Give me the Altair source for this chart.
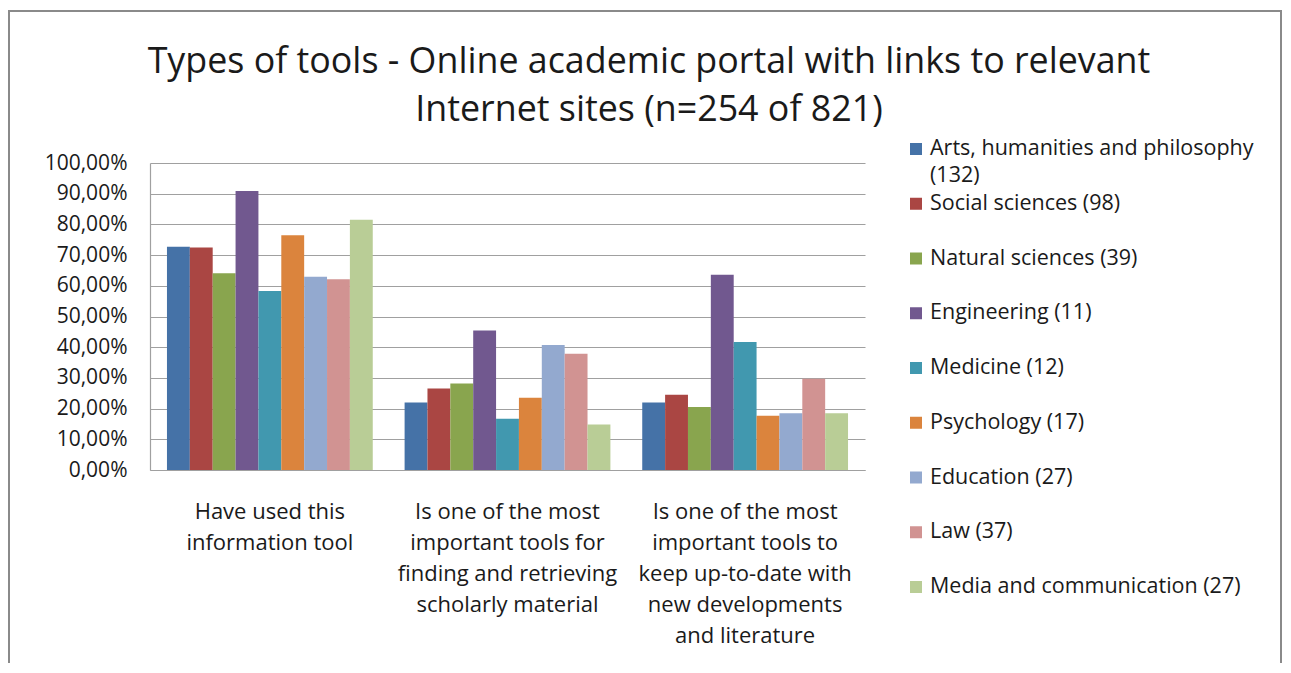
import altair as alt
import pandas as pd

categories = [
    "Have used this\ninformation tool",
    "Is one of the most\nimportant tools for\nfinding and retrieving\nscholarly material",
    "Is one of the most\nimportant tools to\nkeep up-to-date with\nnew developments\nand literature",
]
series = [
    "Arts, humanities and philosophy (132)",
    "Social sciences (98)",
    "Natural sciences (39)",
    "Engineering (11)",
    "Medicine (12)",
    "Psychology (17)",
    "Education (27)",
    "Law (37)",
    "Media and communication (27)",
]
colors = ["#4572A7", "#AA4643", "#89A54E", "#71588F", "#4198AF",
          "#DB843D", "#93A9CF", "#D19392", "#B9CD96"]

have_used = [0.7273, 0.7245, 0.6410, 0.9091, 0.5833, 0.7647, 0.6296, 0.6216, 0.8148]
finding = [0.2197, 0.2653, 0.2821, 0.4545, 0.1667, 0.2353, 0.4074, 0.3784, 0.1481]
up_to_date = [0.2197, 0.2449, 0.2051, 0.6364, 0.4167, 0.1765, 0.1852, 0.2973, 0.1852]

legend_line1 = ["Arts, humanities and philosophy", "Social sciences (98)", "Natural sciences (39)",
                "Engineering (11)", "Medicine (12)", "Psychology (17)", "Education (27)",
                "Law (37)", "Media and communication (27)"]
legend_line2 = ["(132)", "", "", "", "", "", "", "", ""]

title_lines = ["Types of tools - Online academic portal with links to relevant",
               "Internet sites (n=254 of 821)"]

FONT = "Open Sans"
TXT = "#1a1a1a"
GRID = "#a0a0a0"

rows = []
for cat, vals in zip(categories, [have_used, finding, up_to_date]):
    for s, v in zip(series, vals):
        rows.append({"category": cat, "series": s, "value": v})
df = pd.DataFrame(rows)

df_leg = pd.DataFrame({"series": series, "line1": legend_line1, "line2": legend_line2})
dummy = pd.DataFrame({"k": [0]})

color_enc = alt.Color("series:N", sort=series,
                      scale=alt.Scale(domain=series, range=colors), legend=None)

bars = alt.Chart(df).mark_bar().encode(
    x=alt.X("category:N", sort=categories, title=None,
            scale=alt.Scale(paddingInner=0.134, paddingOuter=0.0714),
            axis=alt.Axis(labelExpr="split(datum.label, '\\n')", labelAngle=0,
                          labelFont=FONT, labelFontSize=22, labelColor=TXT,
                          labelLineHeight=31, labelBaseline="top", labelPadding=31,
                          ticks=False, domainColor=GRID, domainWidth=1.2,
                          labelLimit=400, grid=False)),
    xOffset=alt.XOffset("series:N", sort=series,
                        scale=alt.Scale(paddingInner=0, paddingOuter=0)),
    y=alt.Y("value:Q", title=None,
            scale=alt.Scale(domain=[0, 1], nice=False),
            axis=alt.Axis(values=[i / 10 for i in range(11)],
                          labelExpr="replace(format(datum.value, '.2%'), '.', ',')",
                          labelFont=FONT, labelFontSize=21, labelColor=TXT,
                          labelPadding=23, ticks=False, domainColor=GRID, domainWidth=1.2,
                          grid=True, gridColor=GRID, gridWidth=1.2)),
    color=color_enc,
)

leg_y = alt.Y("series:N", sort=series, axis=None,
              scale=alt.Scale(type="point", domain=series, range=[-14, 424], padding=0))

sq = alt.Chart(df_leg).mark_square(size=144, opacity=1).encode(
    x=alt.value(766), y=leg_y, color=color_enc)
t1 = alt.Chart(df_leg).mark_text(align="left", baseline="middle", font=FONT,
                                 fontSize=21.5, color=TXT).encode(
    x=alt.value(780), y=leg_y, text="line1:N")
t2 = alt.Chart(df_leg).mark_text(align="left", baseline="middle", font=FONT,
                                 fontSize=21.5, color=TXT, dy=27.4).encode(
    x=alt.value(780), y=leg_y, text="line2:N")
legend = alt.layer(sq, t1, t2)

frame = alt.Chart(dummy).mark_rect(fill=None, stroke="#8a8a8a", strokeWidth=2).encode(
    x=alt.value(-141), x2=alt.value(1131), y=alt.value(-152), y2=alt.value(530))

title1 = alt.Chart(dummy).mark_text(font=FONT, fontSize=35.8, color=TXT,
                                    align="center", baseline="middle").encode(
    x=alt.value(499), y=alt.value(-101), text=alt.value(title_lines[0]))
title2 = alt.Chart(dummy).mark_text(font=FONT, fontSize=35.8, color=TXT,
                                    align="center", baseline="middle").encode(
    x=alt.value(499), y=alt.value(-53), text=alt.value(title_lines[1]))

chart = alt.layer(frame, title1, title2, bars, legend).resolve_scale(
    y="independent"
).properties(
    width=715, height=307,
    autosize=alt.AutoSizeParams(type="none"),
    padding={"left": 142, "top": 155, "right": 417, "bottom": 193},
    background="white",
).configure_view(stroke=None)

chart.save("out.html", embed_options={"renderer": "svg", "actions": False})
